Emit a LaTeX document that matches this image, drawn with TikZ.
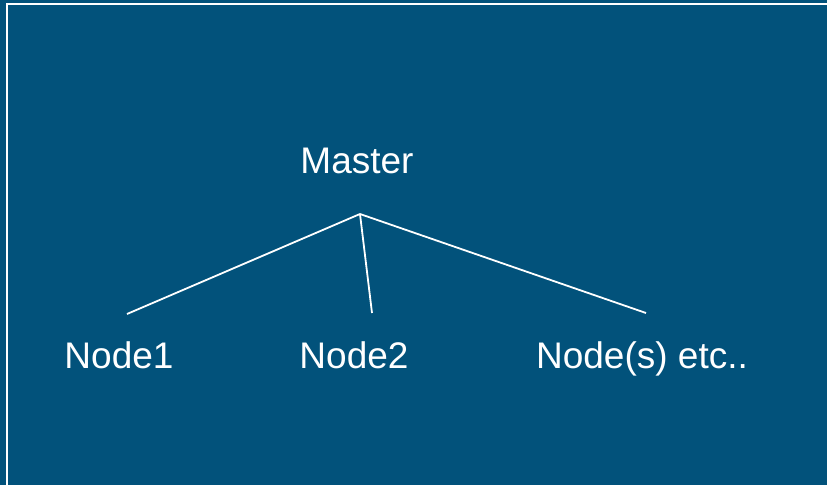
\documentclass[tikz,border=0pt]{standalone}
\usepackage{fontspec}
\setmainfont{Liberation Sans}
\usepackage{tikz}
\definecolor{panelblue}{RGB}{2,82,123}

\begin{document}
\begin{tikzpicture}[x=1pt,y=-1pt,
  lbl/.style={text=white,font=\fontsize{37}{44}\selectfont,inner sep=0pt,anchor=base}]

\useasboundingbox (0,0) rectangle (827,485);
\fill[panelblue] (0,0) rectangle (827,485);
\draw[white,line width=2.5] (7,4) rectangle (840,498);

\node[lbl] (master) at (357,173) {Master};
\node[lbl] (node1) at (119,368) {Node1};
\node[lbl] (node2) at (354,368) {Node2};
\node[lbl] (nodes) at (642,368) {Node(s) etc..};

\coordinate (hub) at (360,214);
\coordinate (e1) at (127,314); \coordinate (e2) at (372,313); \coordinate (e3) at (646,313);
\draw[white,line width=1.8] (hub) -- (e1);
\draw[white,line width=1.8] (hub) -- (e2);
\draw[white,line width=1.8] (hub) -- (e3);

\end{tikzpicture}
\end{document}
